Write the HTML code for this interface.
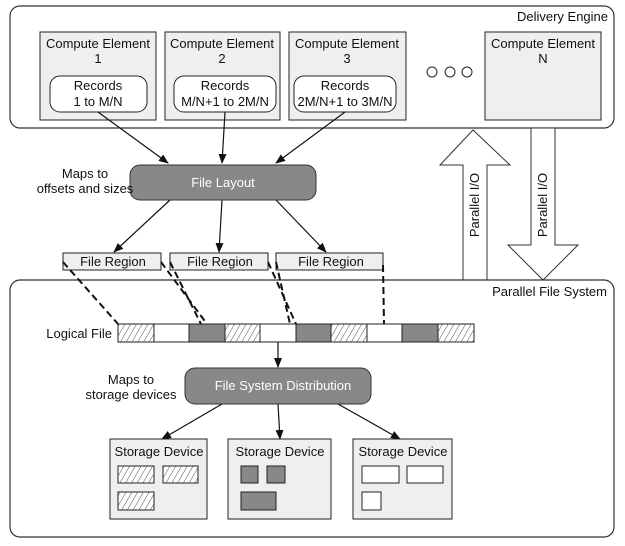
<!DOCTYPE html>
<html><head><meta charset="utf-8"><style>body{margin:0;background:#fff}svg{display:block}text{font-family:"Liberation Sans",sans-serif;font-size:13px;fill:#111}</style></head><body>
<svg width="625" height="546" viewBox="0 0 625 546" xmlns="http://www.w3.org/2000/svg">
<defs>
<pattern id="h" width="5" height="5" patternUnits="userSpaceOnUse" patternTransform="rotate(30)"><rect width="5" height="5" fill="#fff"/><line x1="0" y1="0" x2="0" y2="5" stroke="#222" stroke-width="0.8"/></pattern>
<marker id="a" markerWidth="10" markerHeight="10" refX="9" refY="5" orient="auto" markerUnits="userSpaceOnUse"><path d="M0,1 L10,5 L0,9 Z" fill="#111"/></marker>
</defs>
<rect x="10" y="6" width="604" height="122" rx="10" fill="#fff" stroke="#333" stroke-width="1.2"/>
<text x="608" y="21" text-anchor="end">Delivery Engine</text>
<g fill="#eef0ef" stroke="#222" stroke-width="1">
<rect x="40" y="32" width="116" height="88"/><rect x="165" y="32" width="115" height="88"/><rect x="289" y="32" width="117" height="88"/><rect x="485" y="32" width="116" height="88"/>
</g>
<g fill="#fff" stroke="#222" stroke-width="1">
<rect x="50" y="76" width="97" height="36" rx="10"/><rect x="174" y="76" width="102" height="36" rx="10"/><rect x="294" y="76" width="102" height="36" rx="10"/>
</g>
<g text-anchor="middle">
<text x="98" y="48">Compute Element</text><text x="98" y="63">1</text>
<text x="222" y="48">Compute Element</text><text x="222" y="63">2</text>
<text x="347" y="48">Compute Element</text><text x="347" y="63">3</text>
<text x="543" y="48">Compute Element</text><text x="543" y="63">N</text>
<text x="98" y="90">Records</text><text x="98" y="106">1 to M/N</text>
<text x="225" y="90">Records</text><text x="225" y="106">M/N+1 to 2M/N</text>
<text x="345" y="90">Records</text><text x="345" y="106">2M/N+1 to 3M/N</text>
</g>
<g fill="#fff" stroke="#222"><circle cx="432" cy="72" r="5"/><circle cx="450" cy="72" r="5"/><circle cx="467" cy="72" r="5"/>
<circle cx="485" cy="479" r="5"/><circle cx="503" cy="479" r="5"/><circle cx="520" cy="479" r="5"/></g>
<path d="M473,130 L510,165 L487,165 L487,281 L463,281 L463,165 L440,165 Z" fill="#fff" stroke="#333"/>
<path d="M531,128 L555,128 L555,245 L578,245 L543,280 L508,245 L531,245 Z" fill="#fff" stroke="#333"/>
<text transform="translate(479,205) rotate(-90)" text-anchor="middle">Parallel I/O</text>
<text transform="translate(547,205) rotate(-90)" text-anchor="middle">Parallel I/O</text>
<g stroke="#111" stroke-width="1.2" marker-end="url(#a)">
<line x1="98" y1="112" x2="168" y2="163"/><line x1="225" y1="112" x2="222" y2="163"/><line x1="345" y1="112" x2="276" y2="163"/>
<line x1="170" y1="200" x2="114" y2="252"/><line x1="222" y1="200" x2="219" y2="252"/><line x1="276" y1="200" x2="326" y2="252"/>
</g>
<rect x="130" y="165" width="186" height="35" rx="10" fill="#888" stroke="#333"/>
<text x="223" y="187" text-anchor="middle" style="fill:#fff">File Layout</text>
<text x="85" y="178" text-anchor="middle">Maps to</text><text x="85" y="193" text-anchor="middle">offsets and sizes</text>
<rect x="10" y="280" width="604" height="257" rx="10" fill="#fff" stroke="#333" stroke-width="1.2"/>
<text x="607" y="296" text-anchor="end">Parallel File System</text>
<g fill="#eef0ef" stroke="#222"><rect x="63" y="253" width="98" height="17"/><rect x="170" y="253" width="98" height="17"/><rect x="276" y="253" width="107" height="17"/></g>
<g text-anchor="middle"><text x="113" y="266">File Region</text><text x="220" y="266">File Region</text><text x="331" y="266">File Region</text></g>
<g stroke="#111" stroke-width="2" stroke-dasharray="7,4">
<line x1="63" y1="262" x2="118" y2="324"/><line x1="161" y1="262" x2="207" y2="324"/><line x1="170" y1="262" x2="201" y2="324"/>
<line x1="268" y1="262" x2="296" y2="324"/><line x1="276" y1="262" x2="290" y2="324"/><line x1="383" y1="265" x2="384" y2="324"/>
</g>
<g stroke="#222">
<rect x="118" y="324" width="36" height="18" fill="url(#h)"/><rect x="154" y="324" width="35" height="18" fill="#fff"/><rect x="189" y="324" width="36" height="18" fill="#888"/>
<rect x="225" y="324" width="35" height="18" fill="url(#h)"/><rect x="260" y="324" width="36" height="18" fill="#fff"/><rect x="296" y="324" width="35" height="18" fill="#888"/>
<rect x="331" y="324" width="36" height="18" fill="url(#h)"/><rect x="367" y="324" width="35" height="18" fill="#fff"/><rect x="402" y="324" width="36" height="18" fill="#888"/>
<rect x="438" y="324" width="36" height="18" fill="url(#h)"/>
</g>
<text x="112" y="338" text-anchor="end">Logical File</text>
<g stroke="#111" stroke-width="1.2" marker-end="url(#a)">
<line x1="278" y1="342" x2="278" y2="367"/>
<line x1="222" y1="404" x2="162" y2="439"/><line x1="278" y1="404" x2="280" y2="439"/><line x1="338" y1="404" x2="400" y2="439"/>
</g>
<rect x="185" y="368" width="186" height="36" rx="10" fill="#888" stroke="#333"/>
<text x="283" y="390" text-anchor="middle" style="fill:#fff">File System Distribution</text>
<text x="131" y="384" text-anchor="middle">Maps to</text><text x="131" y="399" text-anchor="middle">storage devices</text>
<g fill="#eef0ef" stroke="#222"><rect x="110" y="439" width="97" height="80"/><rect x="228" y="439" width="103" height="80"/><rect x="353" y="439" width="99" height="80"/></g>
<g text-anchor="middle"><text x="159" y="456">Storage Device</text><text x="280" y="456">Storage Device</text><text x="403" y="456">Storage Device</text></g>
<g stroke="#222">
<rect x="118" y="466" width="36" height="17" fill="url(#h)"/><rect x="163" y="466" width="35" height="17" fill="url(#h)"/><rect x="118" y="492" width="36" height="18" fill="url(#h)"/>
<rect x="241" y="466" width="17" height="17" fill="#888"/><rect x="267" y="466" width="18" height="17" fill="#888"/><rect x="241" y="492" width="35" height="18" fill="#888"/>
<rect x="362" y="466" width="37" height="17" fill="#fff"/><rect x="407" y="466" width="36" height="17" fill="#fff"/><rect x="362" y="492" width="19" height="18" fill="#fff"/>
</g>
</svg>
</body></html>
